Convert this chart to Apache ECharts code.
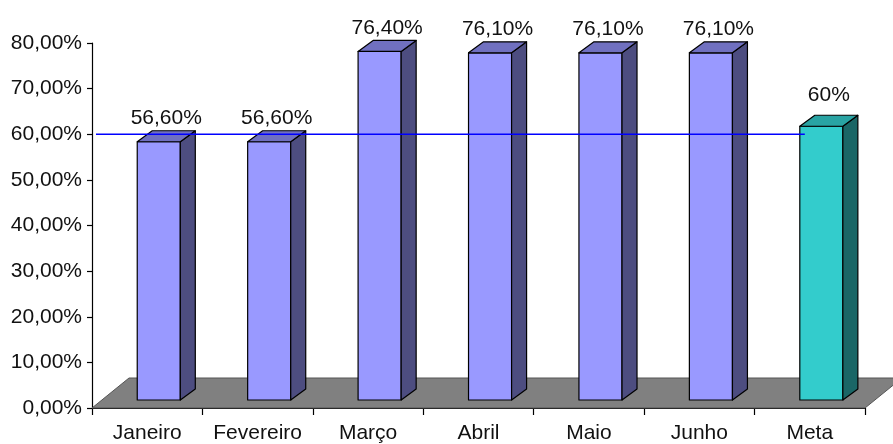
<!DOCTYPE html>
<html>
<head>
<meta charset="utf-8">
<script src="https://cdn.jsdelivr.net/npm/echarts@6/dist/echarts.min.js"></script>
<style>
  html, body { margin: 0; padding: 0; background: #fff; }
  #chart { width: 893px; height: 444px; }
</style>
</head>
<body>
<div id="chart"></div>
<script>
const categories = ['Janeiro', 'Fevereiro', 'Março', 'Abril', 'Maio', 'Junho', 'Meta']
const values = [56.6, 56.6, 76.4, 76.1, 76.1, 76.1, 60]
const valueLabels = ['56,60%', '56,60%', '76,40%', '76,10%', '76,10%', '76,10%', '60%']
const targetValue = 60
const yTicks = [0, 10, 20, 30, 40, 50, 60, 70, 80]

const FONT = '"Liberation Sans", Arial, sans-serif'
const monthColors = { front: '#9999ff', side: '#4d4d80', top: '#7070c0' }
const metaColors = { front: '#33cccc', side: '#1a6666', top: '#29a3a3' }

// 3D look: bar sits in the middle of the floor depth
const BAR_OX = 11, BAR_OY = -8
const DEPTH_X = 15, DEPTH_Y = -11
const FLOOR_X = 37, FLOOR_Y = -30

const chart = echarts.init(document.getElementById('chart'), null, { renderer: 'canvas' })

function renderFloor(params, api) {
  const band = api.size([1, 0])[0]
  const a = api.coord([0, 0])
  const b = api.coord([categories.length - 1, 0])
  const xl = a[0] - band / 2, xr = b[0] + band / 2, y = a[1]
  return {
    type: 'polygon',
    shape: { points: [[xl, y], [xl + FLOOR_X, y + FLOOR_Y], [xr + FLOOR_X, y + FLOOR_Y], [xr, y]] },
    style: { fill: '#808080', stroke: '#555', lineWidth: 1 }
  }
}

function renderBar(params, api) {
  const i = api.value(0)
  const v = api.value(1)
  const base = api.coord([i, 0])
  const top = api.coord([i, v])
  const band = api.size([1, 0])[0]
  const w = band * 0.39
  const fl = base[0] + BAR_OX - band * 0.19
  const yb = base[1] + BAR_OY
  const yt = top[1] + BAR_OY
  const c = categories[i] === 'Meta' ? metaColors : monthColors
  const edge = { stroke: '#000', lineWidth: 1.2, lineJoin: 'round' }
  const gap = categories[i] === 'Meta' ? 10 : 2
  return {
    type: 'group',
    children: [
      { type: 'polygon', shape: { points: [[fl, yt], [fl + w, yt], [fl + w, yb], [fl, yb]] },
        style: Object.assign({ fill: c.front }, edge) },
      { type: 'polygon', shape: { points: [[fl + w, yt], [fl + w + DEPTH_X, yt + DEPTH_Y], [fl + w + DEPTH_X, yb + DEPTH_Y], [fl + w, yb]] },
        style: Object.assign({ fill: c.side }, edge) },
      { type: 'polygon', shape: { points: [[fl, yt], [fl + DEPTH_X, yt + DEPTH_Y], [fl + w + DEPTH_X, yt + DEPTH_Y], [fl + w, yt]] },
        style: Object.assign({ fill: c.top }, edge) },
      { type: 'text',
        style: { text: valueLabels[i], x: fl + (w + DEPTH_X) / 2, y: yt + DEPTH_Y - gap,
          align: 'center', verticalAlign: 'bottom', font: '21px ' + FONT, fill: '#111' } }
    ]
  }
}

function renderTarget(params, api) {
  const band = api.size([1, 0])[0]
  const a = api.coord([0, api.value(0)])
  const last = api.coord([categories.length - 1, api.value(0)])
  const x1 = a[0] - band / 2 + 4
  const x2 = last[0] + BAR_OX - band * 0.19 + 5
  return {
    type: 'line',
    shape: { x1: x1, y1: a[1], x2: x2, y2: a[1] },
    style: { stroke: '#0000ff', lineWidth: 1.5 }
  }
}

chart.setOption({
  animation: false,
  grid: { left: 92, right: 28, top: 43, bottom: 35 },
  xAxis: {
    type: 'category',
    data: categories,
    axisLine: { lineStyle: { color: '#000', width: 1.2 } },
    axisTick: { show: true, interval: 0, length: 7, lineStyle: { color: '#000', width: 1.2 } },
    axisLabel: { interval: 0, hideOverlap: false, color: '#111', fontSize: 21, fontFamily: FONT, margin: 15 }
  },
  yAxis: {
    type: 'value',
    min: yTicks[0],
    max: yTicks[yTicks.length - 1],
    interval: 10,
    splitLine: { show: false },
    axisLine: { show: true, lineStyle: { color: '#000', width: 1.2 } },
    axisTick: { show: true, length: 5, lineStyle: { color: '#000', width: 1.2 } },
    axisLabel: {
      color: '#111', fontSize: 21, fontFamily: FONT, margin: 10,
      formatter: v => v.toFixed(2).replace('.', ',') + '%'
    }
  },
  series: [
    { type: 'custom', z: 1, renderItem: renderFloor, data: [[0]], silent: true },
    { type: 'custom', z: 2, renderItem: renderBar, encode: { x: 0, y: 1 },
      data: values.map((v, i) => [i, v]) },
    { type: 'custom', z: 3, renderItem: renderTarget, data: [[targetValue]], silent: true }
  ]
})
</script>
</body>
</html>
